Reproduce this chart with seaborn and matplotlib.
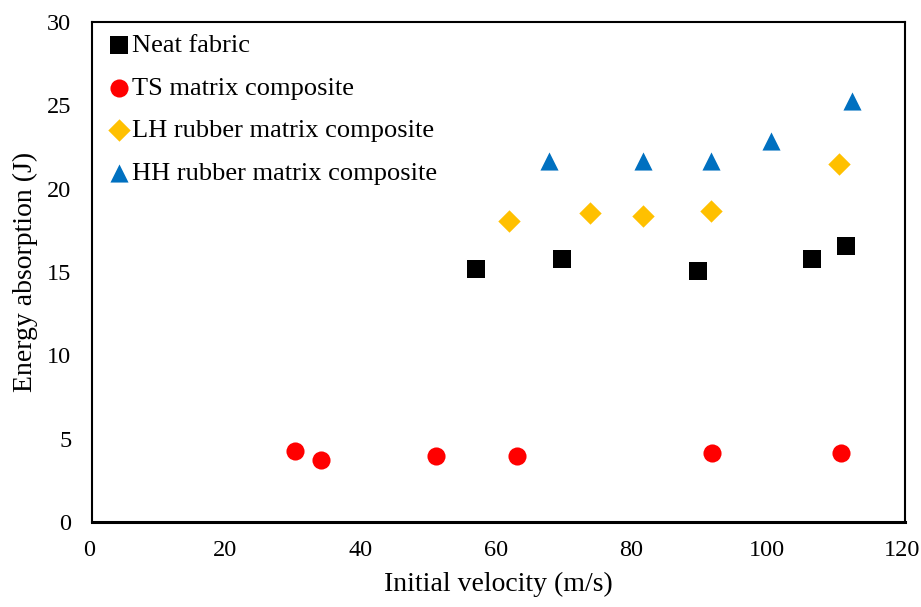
import pandas as pd
import matplotlib.pyplot as plt
import matplotlib.transforms as mtransforms
import seaborn as sns

# datos
neat_v = [56.6, 69.4, 89.4, 106.2, 111.2]
neat_e = [15.2, 15.8, 15.05, 15.75, 16.55]
ts_v = [29.9, 33.8, 50.7, 62.7, 91.5, 110.5]
ts_e = [4.25, 3.72, 3.93, 3.93, 4.15, 4.15]
lh_v = [61.5, 73.4, 81.3, 91.3, 110.2]
lh_e = [18.05, 18.55, 18.35, 18.65, 21.5]
hh_v = [67.4, 81.3, 91.3, 100.2, 112.2]
hh_e = [21.65, 21.65, 21.65, 22.85, 25.25]

series = ['Neat fabric', 'TS matrix composite', 'LH rubber matrix composite', 'HH rubber matrix composite']

df = pd.concat([
    pd.DataFrame({'v': neat_v, 'e': neat_e, 'Serie': series[0]}),
    pd.DataFrame({'v': ts_v, 'e': ts_e, 'Serie': series[1]}),
    pd.DataFrame({'v': lh_v, 'e': lh_e, 'Serie': series[2]}),
    pd.DataFrame({'v': hh_v, 'e': hh_e, 'Serie': series[3]}),
])

sns.set_style('white')
plt.rcParams['font.family'] = ['Liberation Serif', 'DejaVu Serif']
plt.rcParams['text.color'] = 'black'
plt.rcParams['axes.labelcolor'] = 'black'
plt.rcParams['xtick.color'] = 'black'
plt.rcParams['ytick.color'] = 'black'

colores = {series[0]: '#000000', series[1]: '#ff0000', series[2]: '#ffc000', series[3]: '#0070c0'}
marcas = {series[0]: 's', series[1]: 'o', series[2]: 'D', series[3]: '^'}
tamanos = {series[0]: 150, series[1]: 170, series[2]: 130, series[3]: 170}

fig = plt.figure(figsize=(9.21, 6.07), dpi=100)
ax = fig.add_axes([0.100, 0.140, 0.883, 0.824])

for s in series:
    sns.scatterplot(data=df[df['Serie'] == s], x='v', y='e', color=colores[s], marker=marcas[s],
                    s=tamanos[s], linewidth=0, label=s, ax=ax)

ax.set_xlim(0, 120)
ax.set_ylim(0, 30)
ax.set_xticks(range(0, 121, 20))
ax.set_yticks(range(0, 31, 5))
ax.tick_params(labelsize=17.5, length=0, labelcolor='black')
ax.tick_params(axis='x', pad=13)
ax.tick_params(axis='y', pad=15)
# etiquetas del eje x un poco a la izquierda, como en el original
desplaza = mtransforms.ScaledTranslation(-3 / 100, 0, fig.dpi_scale_trans)
for etiqueta in ax.get_xticklabels():
    etiqueta.set_transform(etiqueta.get_transform() + desplaza)

ax.set_xlabel('Initial velocity (m/s)', fontsize=20, labelpad=8, color='black')
ax.set_ylabel('Energy absorption (J)', fontsize=20, labelpad=6, color='black')
for lado in ax.spines.values():
    lado.set_color('black')
    lado.set_linewidth(1.5)
ax.spines['bottom'].set_linewidth(2.2)

ley = ax.legend(loc='upper left', bbox_to_anchor=(0.006, 1), frameon=False, fontsize=19,
                handlelength=0.8, handletextpad=0.09, borderaxespad=0.05, labelspacing=0.72,
                markerscale=1.0)
for t in ley.get_texts():
    t.set_color('black')

plt.savefig('out.png', dpi=100)
